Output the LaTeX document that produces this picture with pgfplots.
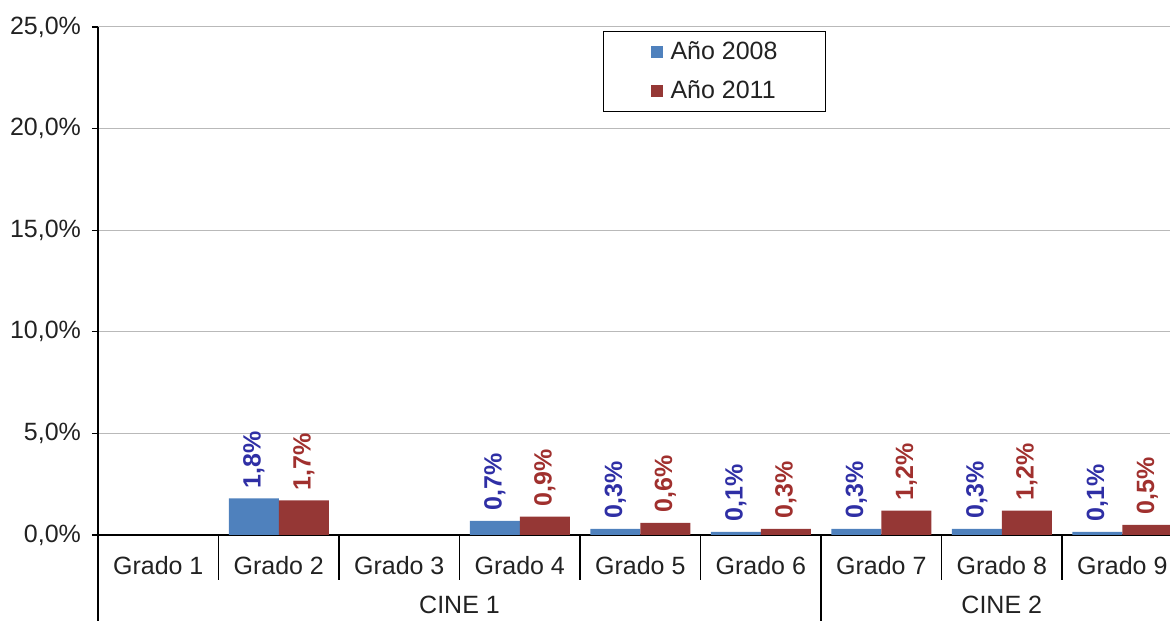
\documentclass[border=0pt]{standalone}
\usepackage{fontspec}
\setmainfont{Liberation Sans}
\usepackage{pgfplots}
\pgfplotsset{compat=1.18}
\definecolor{b08}{HTML}{4F81BD}
\definecolor{r11}{HTML}{953735}
\definecolor{lb}{HTML}{2F2FA5}
\definecolor{lr}{HTML}{A0302E}
\definecolor{txt}{HTML}{222222}
\begin{document}
\begin{tikzpicture}[font=\fontsize{12.5}{15}\selectfont, text=txt]
\begin{axis}[
  name=ax,
  width=536pt, height=254pt, scale only axis,
  xmin=-0.5, xmax=8.396, ymin=0, ymax=25,
  axis x line=bottom, axis y line=left,
  axis line style={-, black, line width=0.6pt},
  ytick={0,5,...,25},
  ymajorgrids, grid style={gray!55, line width=0.5pt},
  /pgf/number format/assume math mode=true,
  yticklabel={\pgfmathprintnumber[fixed,fixed zerofill,precision=1,use comma]{\tick}\%},
  yticklabel style={xshift=-2pt},
  tick align=outside, major tick length=3pt,
  y tick style={black, line width=0.6pt},
  xtick={0,...,8},
  xticklabels={Grado 1,Grado 2,Grado 3,Grado 4,Grado 5,Grado 6,Grado 7,Grado 8,Grado 9},
  x tick style={draw=none},
  xticklabel style={yshift=-4pt},
  ybar=0pt, bar width=25pt,
  clip=false,
  point meta=explicit symbolic,
  nodes near coords,
  every node near coord/.append style={rotate=90, anchor=west, inner xsep=5pt, font=\fontsize{12.5}{15}\selectfont\bfseries},
  legend style={at={(0.471,0.992)}, anchor=north west, draw=black, line width=0.6pt,
    inner xsep=20pt, inner ysep=3pt, row sep=5pt, font=\fontsize{12.5}{15}\selectfont,
    nodes={inner xsep=4pt}},
  legend cell align=left,
  legend image code/.code={\path (0pt,0pt); \fill[#1] (3.5pt,-3pt) rectangle (9.5pt,3pt);},
]
\addplot[fill=b08, draw=none, every node near coord/.append style={text=lb}] coordinates {
  (1,1.8) [1,8\%]
  (3,0.7) [0,7\%]
  (4,0.3) [0,3\%]
  (5,0.15) [0,1\%]
  (6,0.3) [0,3\%]
  (7,0.3) [0,3\%]
  (8,0.15) [0,1\%]
};
\addplot[fill=r11, draw=none, every node near coord/.append style={text=lr}] coordinates {
  (1,1.7) [1,7\%]
  (3,0.9) [0,9\%]
  (4,0.6) [0,6\%]
  (5,0.3) [0,3\%]
  (6,1.2) [1,2\%]
  (7,1.2) [1,2\%]
  (8,0.5) [0,5\%]
};
\legend{Año 2008, Año 2011}
\pgfplotsinvokeforeach{0.5,1.5,2.5,3.5,4.5,6.5,7.5}{
  \draw[black, line width=0.6pt] (axis cs:#1,0) -- ([yshift=-22.5pt]axis cs:#1,0);
}
\draw[black, line width=0.6pt] (axis cs:5.5,0) -- ([yshift=-50pt]axis cs:5.5,0);
\draw[black, line width=0.6pt] (axis cs:-0.5,0) -- ([yshift=-50pt]axis cs:-0.5,0);
\node[text=txt] at (axis cs:2.5,0) [yshift=-35pt] {CINE 1};
\node[text=txt] at (axis cs:7,0) [yshift=-35pt] {CINE 2};
\end{axis}
\pgfresetboundingbox
\path[use as bounding box] ([xshift=-49pt,yshift=-43pt]ax.south west) rectangle ([yshift=13.5pt]ax.north east);
\end{tikzpicture}
\end{document}
